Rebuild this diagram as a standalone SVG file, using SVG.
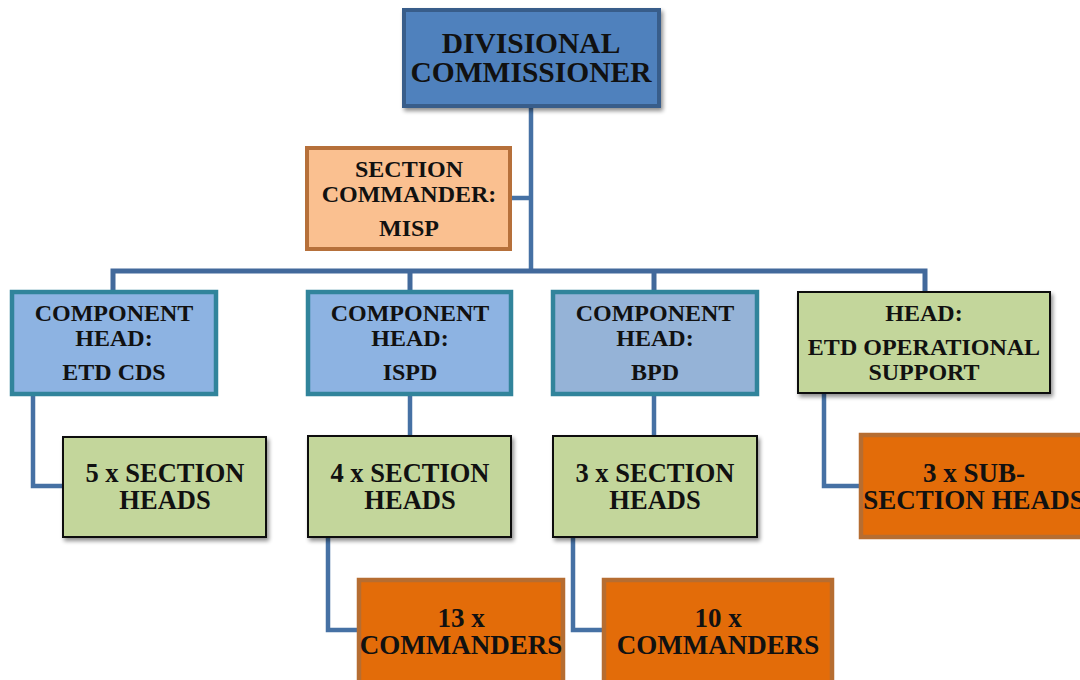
<svg xmlns="http://www.w3.org/2000/svg" width="1080" height="680" viewBox="0 0 1080 680">
  <defs>
    <filter id="shadow" x="-10%" y="-10%" width="125%" height="130%">
      <feGaussianBlur in="SourceAlpha" stdDeviation="2"/>
      <feOffset dx="2" dy="3" result="off"/>
      <feComponentTransfer><feFuncA type="linear" slope="0.45"/></feComponentTransfer>
      <feMerge><feMergeNode/><feMergeNode in="SourceGraphic"/></feMerge>
    </filter>
  </defs>
  <style>
    text { font-family: "Liberation Serif", "Times New Roman", serif; font-weight: bold; fill: #111; text-anchor: middle; }
    .link { fill: none; stroke: #4671A4; stroke-width: 4.5; stroke-linejoin: miter; }
    .bus { fill: none; stroke: #42699B; stroke-width: 5; }
    .top { fill: #4F81BD; stroke: #385D8A; stroke-width: 4; }
    .peach { fill: #FAC090; stroke: #B6703A; stroke-width: 4; }
    .blue { fill: #8DB3E2; stroke: #31849B; stroke-width: 4.5; }
    .blue2 { fill: #95B3D7; stroke: #31849B; stroke-width: 4.5; }
    .green { fill: #C3D69B; stroke: #111; stroke-width: 2; }
    .orange { fill: #E36C09; stroke: #B66D31; stroke-width: 4.5; }
    .t29 { font-size: 29.5px; }
    .t24 { font-size: 24px; }
    .t26 { font-size: 26.5px; }
    .t27 { font-size: 27px; }
  </style>

  <!-- connectors -->
  <g id="connectors">
    <path class="link" d="M531 106 V271"/>
    <path class="link" d="M511 198 H531"/>
    <path class="bus" d="M113 292 V271 H925 V292"/>
    <path class="bus" d="M410 271 V292"/>
    <path class="bus" d="M654 271 V292"/>
    <path class="link" d="M33 395 V486 H63"/>
    <path class="link" d="M410 395 V436"/>
    <path class="link" d="M654 395 V436"/>
    <path class="link" d="M824 393 V486 H860"/>
    <path class="link" d="M328 537 V630 H358"/>
    <path class="link" d="M573 537 V630 H603"/>
  </g>

  <g id="divisional-commissioner">
    <rect class="top" x="404" y="10" width="255" height="96" filter="url(#shadow)"/>
    <text class="t29" x="531" y="53">DIVISIONAL</text>
    <text class="t29" x="531" y="82">COMMISSIONER</text>
  </g>

  <g id="section-commander-misp">
    <rect class="peach" x="307" y="148" width="203" height="101"/>
    <text class="t24" x="409" y="177">SECTION</text>
    <text class="t24" x="409" y="202">COMMANDER:</text>
    <text class="t24" x="409" y="236">MISP</text>
  </g>

  <g id="component-etd-cds">
    <rect class="blue" x="12" y="292" width="204" height="102"/>
    <text class="t24" x="114" y="321">COMPONENT</text>
    <text class="t24" x="114" y="346">HEAD:</text>
    <text class="t24" x="114" y="380">ETD CDS</text>
  </g>

  <g id="component-ispd">
    <rect class="blue" x="308" y="292" width="203" height="102"/>
    <text class="t24" x="410" y="321">COMPONENT</text>
    <text class="t24" x="410" y="346">HEAD:</text>
    <text class="t24" x="410" y="380">ISPD</text>
  </g>

  <g id="component-bpd">
    <rect class="blue2" x="553" y="292" width="204" height="102"/>
    <text class="t24" x="655" y="321">COMPONENT</text>
    <text class="t24" x="655" y="346">HEAD:</text>
    <text class="t24" x="655" y="380">BPD</text>
  </g>

  <g id="head-etd-operational-support">
    <rect class="green" x="798" y="292" width="252" height="101" filter="url(#shadow)"/>
    <text class="t24" x="924" y="321">HEAD:</text>
    <text class="t24" x="924" y="355">ETD OPERATIONAL</text>
    <text class="t24" x="924" y="380">SUPPORT</text>
  </g>

  <g id="section-heads-5">
    <rect class="green" x="63" y="437" width="203" height="100" filter="url(#shadow)"/>
    <text class="t26" x="165" y="482">5 x SECTION</text>
    <text class="t26" x="165" y="509">HEADS</text>
  </g>

  <g id="section-heads-4">
    <rect class="green" x="308" y="436" width="203" height="101" filter="url(#shadow)"/>
    <text class="t26" x="410" y="482">4 x SECTION</text>
    <text class="t26" x="410" y="509">HEADS</text>
  </g>

  <g id="section-heads-3">
    <rect class="green" x="553" y="436" width="204" height="101" filter="url(#shadow)"/>
    <text class="t26" x="655" y="482">3 x SECTION</text>
    <text class="t26" x="655" y="509">HEADS</text>
  </g>

  <g id="sub-section-heads-3">
    <rect class="orange" x="861" y="435" width="226" height="102"/>
    <text class="t27" x="974" y="482">3 x SUB-</text>
    <text class="t27" x="974" y="509">SECTION HEADS</text>
  </g>

  <g id="commanders-13">
    <rect class="orange" x="359" y="580" width="204" height="110"/>
    <text class="t27" x="461" y="627">13 x</text>
    <text class="t27" x="461" y="654">COMMANDERS</text>
  </g>

  <g id="commanders-10">
    <rect class="orange" x="604" y="580" width="228" height="110"/>
    <text class="t27" x="718" y="627">10 x</text>
    <text class="t27" x="718" y="654">COMMANDERS</text>
  </g>
</svg>
